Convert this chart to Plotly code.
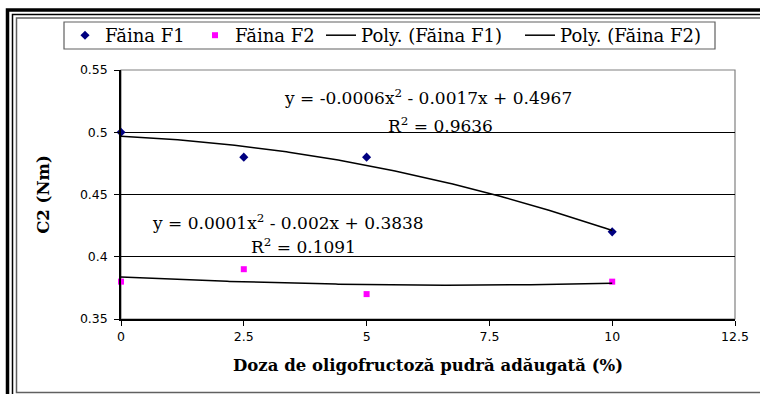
import numpy as np
import plotly.graph_objects as go

# Dose of oligofructose powder added (%) and measured C2 torque (Nm)
doza = [0, 2.5, 5, 10]
faina_f1 = [0.50, 0.48, 0.48, 0.42]
faina_f2 = [0.38, 0.39, 0.37, 0.38]

x_ticks = [0, 2.5, 5, 7.5, 10, 12.5]
y_ticks = [0.35, 0.40, 0.45, 0.50, 0.55]

eq_f1 = ["y = -0.0006x<sup>2</sup> - 0.0017x + 0.4967", "R<sup>2</sup> = 0.9636"]
eq_f2 = ["y = 0.0001x<sup>2</sup> - 0.002x + 0.3838", "R<sup>2</sup> = 0.1091"]

# Second-order polynomial trend lines fitted to each series
xs = np.linspace(min(doza), max(doza), 200)
fit_f1 = np.polyval(np.polyfit(doza, faina_f1, 2), xs)
fit_f2 = np.polyval(np.polyfit(doza, faina_f2, 2), xs)

W, H = 760, 394
L, R, T, B = 121, 735, 70, 319


def px_x(p):
    return (p - L) / (R - L)


def px_y(p):
    return (B - p) / (B - T)


fig = go.Figure()
fig.add_trace(go.Scatter(x=doza, y=faina_f1, mode="markers", name="Făina F1",
                         marker=dict(symbol="diamond", size=7, color="#000080"),
                         cliponaxis=False, legend="legend"))
fig.add_trace(go.Scatter(x=doza, y=faina_f2, mode="markers", name="Făina F2",
                         marker=dict(symbol="square", size=6, color="#FF00FF"),
                         cliponaxis=False, legend="legend2"))
fig.add_trace(go.Scatter(x=xs, y=fit_f1, mode="lines", name="Poly. (Făina F1)",
                         line=dict(color="black", width=1.5), legend="legend3"))
fig.add_trace(go.Scatter(x=xs, y=fit_f2, mode="lines", name="Poly. (Făina F2)",
                         line=dict(color="black", width=1.5), legend="legend4"))

shapes = []
# plot-area border
shapes.append(dict(type="rect", xref="paper", yref="paper", x0=0, x1=1, y0=0, y1=1,
                   line=dict(color="#808080", width=1.2), layer="below"))
# outer frame: thick black, thin black, grey
shapes.append(dict(type="path", xref="paper", yref="paper",
                   path=f"M {px_x(7.5)} {px_y(400)} L {px_x(7.5)} {px_y(10)} L {px_x(770)} {px_y(10)}",
                   line=dict(color="black", width=3.5)))
shapes.append(dict(type="path", xref="paper", yref="paper",
                   path=f"M {px_x(12.5)} {px_y(400)} L {px_x(12.5)} {px_y(14.5)} L {px_x(770)} {px_y(14.5)}",
                   line=dict(color="black", width=1.5)))
shapes.append(dict(type="path", xref="paper", yref="paper",
                   path=f"M {px_x(770)} {px_y(392.5)} L {px_x(16.5)} {px_y(392.5)} L {px_x(16.5)} {px_y(18)} L {px_x(770)} {px_y(18)}",
                   line=dict(color="#606060", width=1.5)))
# legend box
shapes.append(dict(type="rect", xref="paper", yref="paper",
                   x0=px_x(64), x1=px_x(715), y0=px_y(49), y1=px_y(22),
                   line=dict(color="#606060", width=1.2), fillcolor="white"))

annotations = []
serif = "DejaVu Serif, serif"
for txt, cx, cy in [(eq_f1[0], 428, 97), (eq_f1[1], 440, 125),
                    (eq_f2[0], 288, 222), (eq_f2[1], 303, 246)]:
    annotations.append(dict(text=txt, xref="paper", yref="paper",
                            x=px_x(cx), y=px_y(cy), xanchor="center", yanchor="middle",
                            showarrow=False, font=dict(family=serif, size=17, color="black")))


def legend_at(left_px):
    return dict(orientation="h", x=px_x(left_px), y=px_y(35.5), xanchor="left", yanchor="middle",
                font=dict(family=serif, size=18, color="black"),
                bgcolor="rgba(0,0,0,0)", borderwidth=0)


fig.update_layout(
    width=W, height=H,
    margin=dict(l=L, r=W - R, t=T, b=H - B),
    paper_bgcolor="white", plot_bgcolor="white",
    font=dict(family="DejaVu Sans, sans-serif", size=12.5, color="black"),
    showlegend=True,
    legend=legend_at(65),
    legend2=legend_at(195),
    legend3=legend_at(321),
    legend4=legend_at(520),
    xaxis=dict(range=[0, 12.5], tickmode="array", tickvals=x_ticks,
               ticktext=["0", "2.5", "5", "7.5", "10", "12.5"],
               showgrid=False, zeroline=False, showline=True, linecolor="black", linewidth=1.5,
               ticks="outside", ticklen=5, tickcolor="black", tickfont=dict(size=12.5),
               title=dict(text="<b>Doza de oligofructoză pudră adăugată (%)</b>",
                          font=dict(family=serif, size=16.5), standoff=17)),
    yaxis=dict(range=[0.35, 0.55], tickmode="array", tickvals=y_ticks,
               ticktext=["0.35", "0.4", "0.45", "0.5", "0.55"],
               showgrid=True, gridcolor="black", gridwidth=1, zeroline=False,
               showline=True, linecolor="black", linewidth=1.5,
               ticks="outside", ticklen=5, tickcolor="black", tickfont=dict(size=12.5),
               ticklabelstandoff=4,
               title=dict(text="<b>C2 (Nm)</b>", font=dict(family=serif, size=16.5), standoff=26)),
    shapes=shapes,
    annotations=annotations,
)

fig.write_html("out.html")
